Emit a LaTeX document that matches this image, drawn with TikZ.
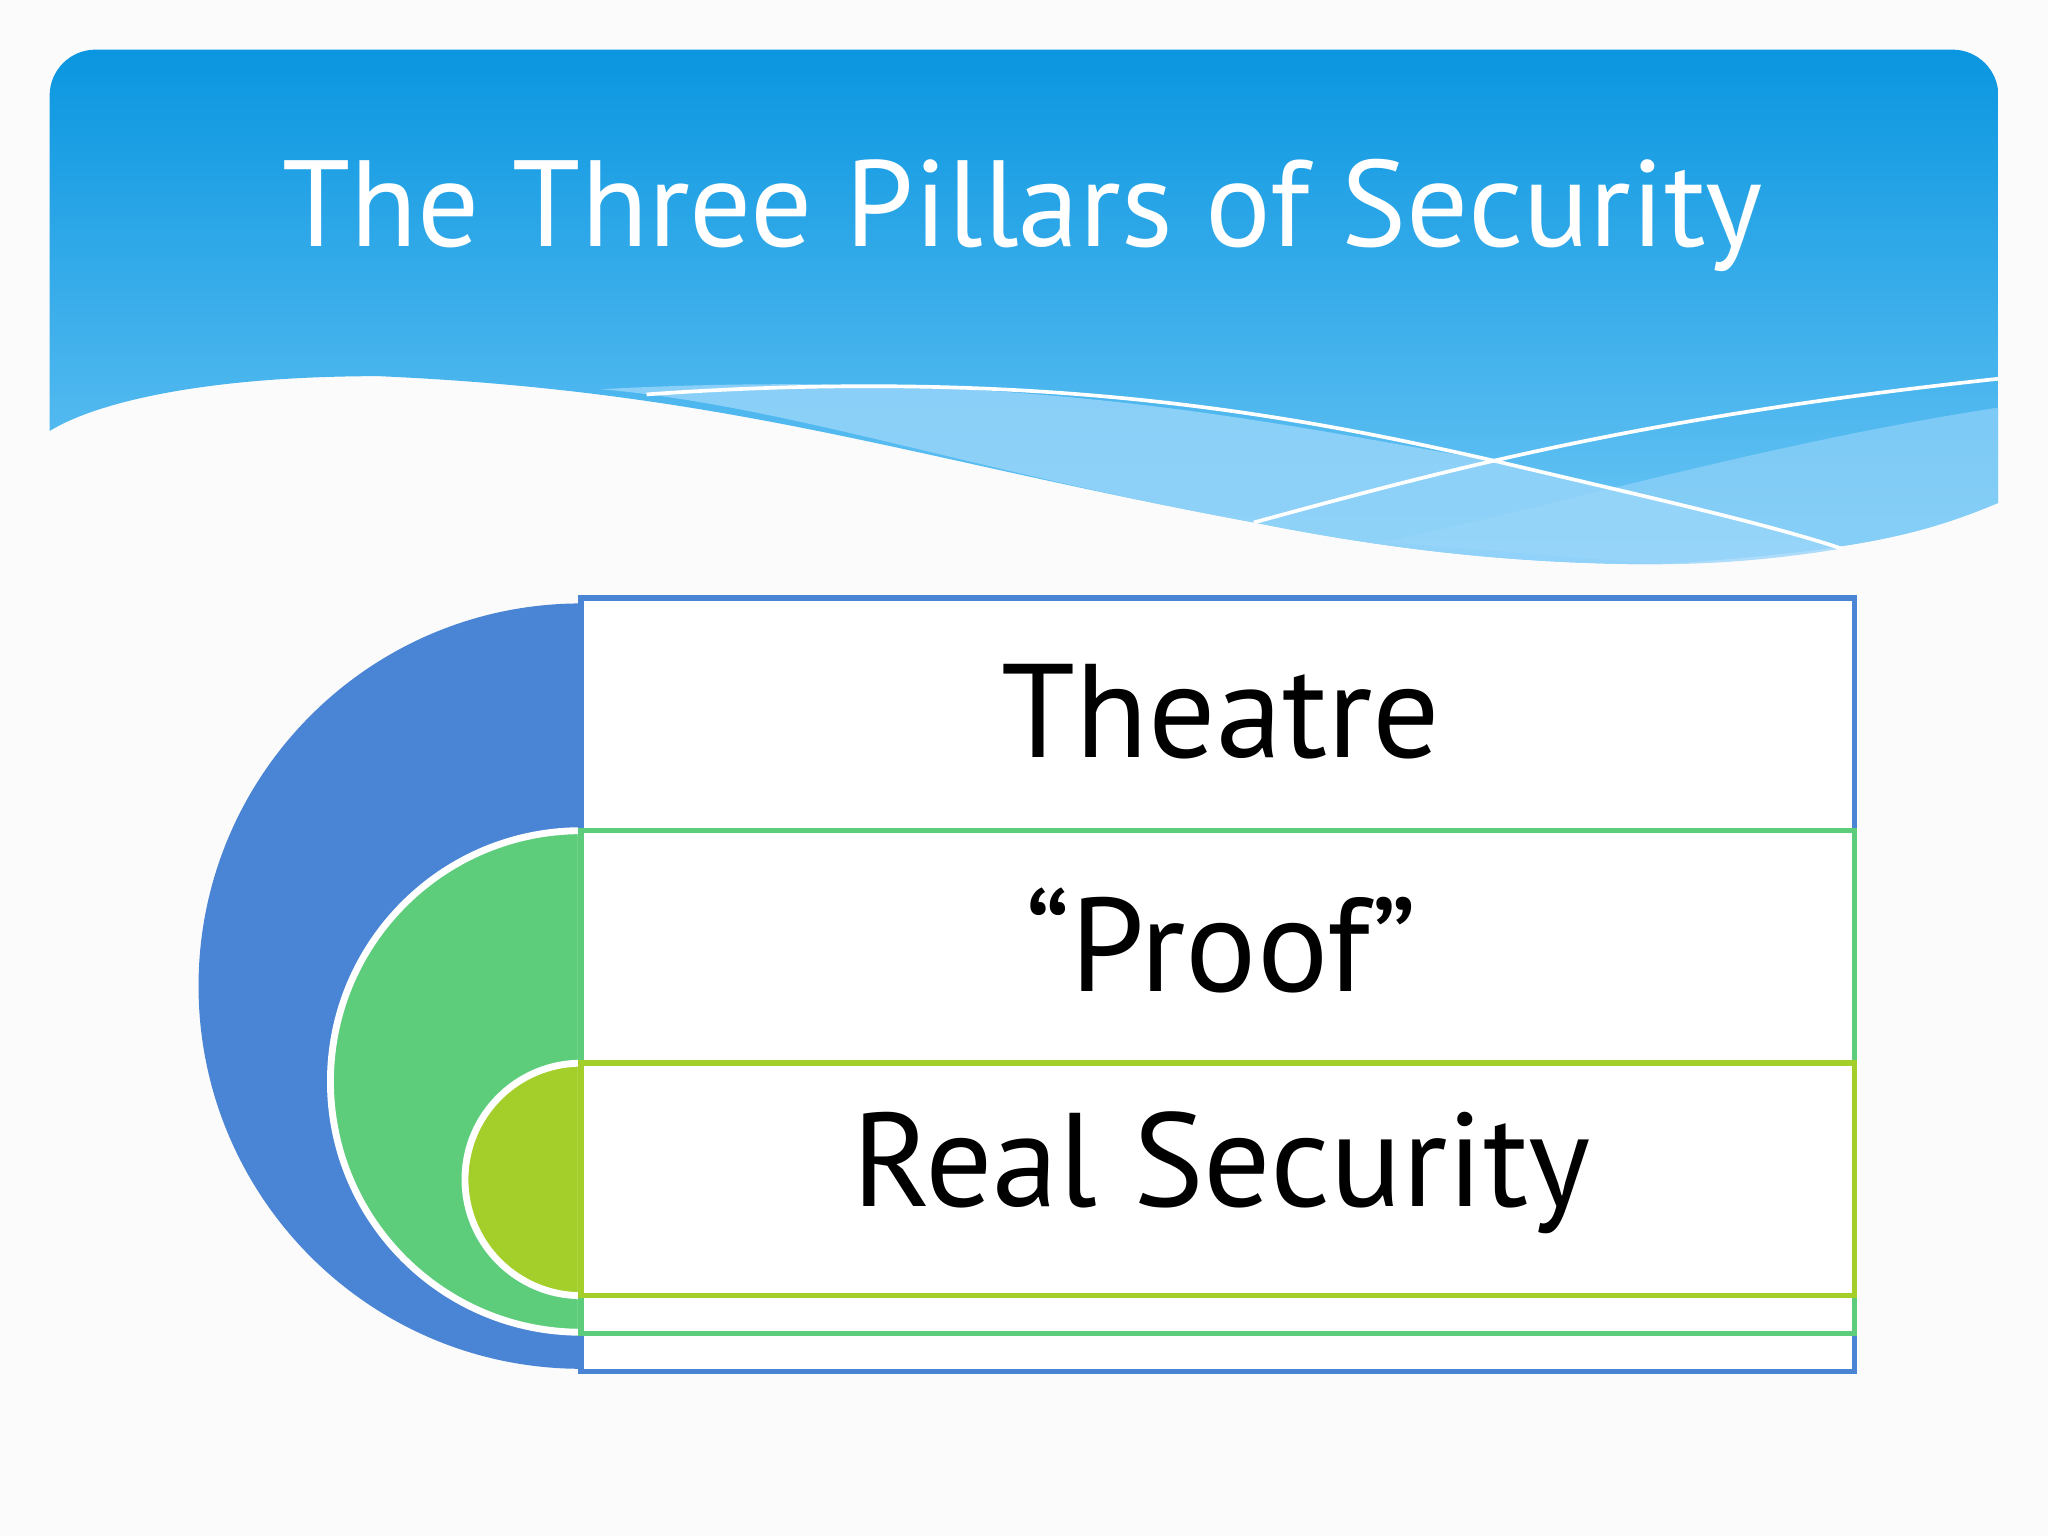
\documentclass[tikz,border=0pt]{standalone}
\usepackage{fontspec}
\setmainfont{PT Sans}
\definecolor{cblue}{HTML}{4A84D4}
\definecolor{cgreen}{HTML}{5DCD7B}
\definecolor{clime}{HTML}{A4CF2B}
\definecolor{htop}{HTML}{0A96E0}
\definecolor{hbot}{HTML}{6CC6F5}
\definecolor{band}{HTML}{9AD6FA}
\begin{document}
\begin{tikzpicture}[x=0.01cm,y=-0.01cm,
  lbl/.style={font=\fontsize{29}{32}\selectfont,text=black},
  pillar/.style={line width=1.2pt,fill=white}]
\useasboundingbox (0,0) rectangle (1568,1176);
\fill[white!97!gray] (0,0) rectangle (1568,1176);
% header
\shade[top color=htop,bottom color=hbot,rounded corners=10pt]
  (38,330) -- (38,38) -- (1530,38) -- (1530,200) [sharp corners] -- (1530,385)
  .. controls (1470,410) and (1420,422) .. (1270,432)
  .. controls (1150,432) and (1050,418) .. (960,400)
  .. controls (700,352) and (560,300) .. (290,288)
  .. controls (150,288) and (70,310) .. (38,330) -- cycle;
\fill[band,opacity=0.8] (460,298) .. controls (800,280) and (1000,330) .. (1145,353)
  .. controls (1250,378) and (1350,400) .. (1410,420)
  .. controls (1350,430) and (1300,432) .. (1270,432)
  .. controls (1150,432) and (1050,418) .. (960,400)
  .. controls (750,362) and (600,310) .. (460,298) -- cycle;
\fill[band,opacity=0.6] (1530,312) .. controls (1350,340) and (1200,385) .. (1060,415)
  -- (1270,432) .. controls (1420,422) and (1470,410) .. (1530,385) -- cycle;
\draw[white,line width=0.8pt] (495,302) .. controls (800,280) and (1000,320) .. (1145,353)
  .. controls (1250,378) and (1350,400) .. (1410,420);
\draw[white,line width=0.8pt] (960,400) .. controls (1100,362) and (1250,320) .. (1530,290);
\node[text=white,font=\fontsize{26.7}{30}\selectfont] (title) at (783,165) {The Three Pillars of Security};
% circles
\fill[cblue] (445,462) arc[start angle=270,end angle=90,radius=293] -- cycle;
\filldraw[fill=cgreen,draw=white,line width=1.5pt] (445,636) arc[start angle=270,end angle=90,radius=192] -- cycle;
\filldraw[fill=clime,draw=white,line width=1.5pt] (445,814) arc[start angle=270,end angle=90,radius=89] -- cycle;
% rectangles
\draw[pillar,draw=cblue] (445,458) rectangle (1420,1050);
\draw[pillar,draw=cgreen] (445,636) rectangle (1420,1021);
\draw[pillar,draw=clime] (445,814) rectangle (1420,992);
\node[lbl] (t1) at (935,545) {Theatre};
\node[lbl] (t2) at (935,720) {“Proof”};
\node[lbl] (t3) at (935,898) {Real Security};
\end{tikzpicture}
\end{document}
